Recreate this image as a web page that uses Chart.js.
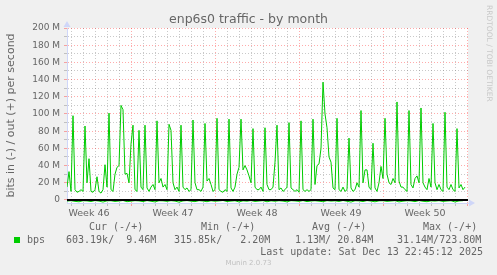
<!DOCTYPE html>
<html>
<head>
<meta charset="utf-8">
<script src="https://cdn.jsdelivr.net/npm/chart.js@4.4.1/dist/chart.umd.min.js"></script>
<style>
  body { margin: 0; background: #f0f0f0; }
  #wrap { position: relative; width: 497px; height: 275px; overflow: hidden; }
  #chart { position: absolute; left: 0; top: 0; }
  .txt { position: absolute; white-space: pre; color: #666; line-height: normal; }
  .mono { font-family: "DejaVu Sans Mono", monospace; font-size: 10px; }
</style>
</head>
<body>
<div id="wrap">
  <canvas id="chart" width="497" height="275"></canvas>
</div>
<script>
// Data (out = positive, in = negative), bits/s in M
const startDay = 1 + 16 / 24;   // Tue Nov 11 16:00, counted in days from Mon Nov 10
const endDay = startDay + 401 / 12;
const outStepHours = 4;
const inStepHours = 8;

const outValues = [
  15, 33, 10, 98, 12, 9,   10, 12, 10, 86, 20, 48,   10, 9, 12, 27, 10, 8,
  12, 41, 15, 101, 12, 10, 30, 38, 40, 110, 105, 30,  31, 20, 65, 87, 12, 10,
  81, 15, 12, 87, 14, 10,  15, 18, 12, 92, 20, 25,   15, 18, 12, 88, 81, 20,
  12, 15, 10, 87, 15, 12,  14, 10, 12, 93, 20, 12,   12, 10, 15, 89, 22, 25,
  18, 10, 12, 95, 12, 10,  9, 12, 10, 94, 14, 10,    15, 30, 38, 94, 35, 40,
  35, 28, 20, 83, 15, 12,  12, 15, 10, 84, 18, 12,   12, 15, 44, 87, 12, 14,
  10, 12, 15, 90, 14, 12,  10, 12, 9, 92, 12, 10,    12, 10, 12, 94, 18, 40,
  42, 60, 137, 100, 84, 50, 44, 14, 12, 95, 12, 10,  15, 10, 12, 72, 14, 10,
  12, 20, 15, 104, 20, 35, 35, 15, 12, 66, 14, 10,   20, 39, 25, 95, 30, 20,
  18, 25, 20, 114, 22, 15, 15, 12, 10, 104, 18, 14,  25, 28, 20, 107, 20, 15,
  12, 25, 15, 89, 20, 12,  18, 12, 10, 102, 15, 12,  18, 12, 10, 83, 14, 18,
  12, 15
];

const inValues = [
  -1.2, -0.8, -1.6, -2.1, -0.9, -1.1, -1.8, -0.7, -1.3, -2.4,
  -1.0, -0.9, -1.7, -1.2, -0.6, -2.0, -1.4, -0.8, -1.1, -1.9,
  -0.7, -1.5, -2.2, -0.9, -1.0, -1.6, -0.8, -1.3, -2.5, -1.1,
  -0.7, -1.4, -1.9, -0.8, -1.2, -2.0, -0.9, -1.5, -1.1, -0.6,
  -1.8, -1.3, -0.9, -2.3, -1.0, -1.4, -0.7, -1.7, -1.2, -0.8,
  -2.1, -1.0, -1.5, -0.9, -1.3, -2.2, -0.8, -1.1, -1.6, -0.7,
  -1.9, -1.2, -0.9, -1.4, -2.0, -0.8, -1.3, -1.0, -1.7, -0.6,
  -1.5, -2.4, -0.9, -1.1, -1.8, -0.7, -1.3, -2.1, -1.0, -0.9,
  -1.6, -1.2, -0.8, -2.2, -1.4, -0.9, -1.1, -1.9, -0.7, -1.5,
  -2.0, -1.0, -1.3, -0.8, -1.7, -1.2, -0.9, -2.3, -1.1, -0.8
];

const weekLabels = ['Week 46', 'Week 47', 'Week 48', 'Week 49', 'Week 50'];
const weekCenters = [3.5, 10.5, 17.5, 24.5, 31.5];

const legendHeaders = ['Cur (-/+)', 'Min (-/+)', 'Avg (-/+)', 'Max (-/+)'];
const legendValues = ['603.19k/  9.46M', '315.85k/   2.20M', '1.13M/ 20.84M', '31.14M/723.80M'];
const seriesName = 'bps';
const lastUpdate = 'Last update: Sat Dec 13 22:45:12 2025';

// Colours munin hands to rrdtool
const GREEN = '#00cc00';
const AXIS = '#cfd6f8';
const MGRID = 'rgba(255, 0, 0, 0.33)';
const GRID = 'rgba(120, 120, 120, 0.4)';

const outPoints = outValues.map((v, i) => ({ x: startDay + i * outStepHours / 24, y: v }));
const inPoints = inValues.map((v, i) => ({ x: startDay + i * inStepHours / 24, y: v }));

// plot background, zero line and axis arrows
const rrdPlugin = {
    id: 'rrd',
    beforeDraw(chart) {
        const a = chart.chartArea;
        const ctx = chart.ctx;
        ctx.save();
        ctx.fillStyle = '#ffffff';
        ctx.fillRect(a.left, a.top, a.right - a.left, a.bottom - a.top);
        ctx.restore();
    },
    afterDatasetsDraw(chart) {
        const a = chart.chartArea;
        const ctx = chart.ctx;
        const y0 = Math.round(chart.scales.y.getPixelForValue(0));
        ctx.save();
        ctx.fillStyle = '#000000';
        ctx.fillRect(a.left, y0 - 1, a.right - a.left, 2);
        ctx.fillStyle = AXIS;
        ctx.beginPath();
        ctx.moveTo(a.left - 3.5, a.top - 1);
        ctx.lineTo(a.left + 3.5, a.top - 1);
        ctx.lineTo(a.left, a.top - 7);
        ctx.closePath();
        ctx.fill();
        ctx.beginPath();
        ctx.moveTo(a.right + 1, a.bottom - 3.5);
        ctx.lineTo(a.right + 1, a.bottom + 3.5);
        ctx.lineTo(a.right + 7, a.bottom);
        ctx.closePath();
        ctx.fill();
        ctx.restore();
    }
};

new Chart(document.getElementById('chart'), {
    type: 'line',
    data: {
        datasets: [
            { label: 'out', data: outPoints, borderColor: GREEN, borderWidth: 1, pointRadius: 0, tension: 0 },
            { label: 'in', data: inPoints, borderColor: GREEN, borderWidth: 1, pointRadius: 0, tension: 0 }
        ]
    },
    options: {
        responsive: false,
        animation: false,
        devicePixelRatio: 1,
        layout: { padding: { top: 28, right: 29, bottom: 52, left: 0 } },
        plugins: { legend: { display: false }, tooltip: { enabled: false } },
        scales: {
            x: {
                type: 'linear',
                min: startDay,
                max: endDay,
                afterBuildTicks(scale) {
                    const ticks = [];
                    for (let d = 2; d <= 35; d++) ticks.push({ value: d });
                    weekCenters.forEach(c => ticks.push({ value: c }));
                    ticks.sort((p, q) => p.value - q.value);
                    scale.ticks = ticks;
                },
                afterFit(scale) { scale.height = 20; },
                ticks: {
                    autoSkip: false,
                    maxRotation: 0,
                    padding: 2,
                    color: '#666',
                    font: { family: 'DejaVu Sans', size: 9.5 },
                    callback(v) {
                        const k = weekCenters.indexOf(v);
                        return k >= 0 ? weekLabels[k] : '';
                    }
                },
                grid: {
                    tickLength: 3,
                    color(c) {
                        const v = c.tick.value;
                        if (!Number.isInteger(v)) return 'transparent';
                        return v % 7 === 0 ? MGRID : GRID;
                    },
                    tickColor(c) {
                        const v = c.tick.value;
                        if (!Number.isInteger(v)) return 'transparent';
                        return v % 7 === 0 ? MGRID : GRID;
                    }
                },
                border: { display: true, color: AXIS, width: 1, dash: [1, 2] }
            },
            y: {
                min: -3.5,
                max: 200,
                afterBuildTicks(scale) {
                    const ticks = [];
                    for (let v = 0; v <= 200; v += 10) ticks.push({ value: v });
                    scale.ticks = ticks;
                },
                afterFit(scale) { scale.width = 67; },
                ticks: {
                    autoSkip: false,
                    padding: 4,
                    color: '#666',
                    font: { family: 'DejaVu Sans', size: 9 },
                    callback(v) {
                        if (v % 20 !== 0) return '';
                        return v === 0 ? '0' : v + ' M';
                    }
                },
                grid: {
                    tickLength: 3,
                    color(c) { return c.tick.value % 20 === 0 ? MGRID : GRID; },
                    tickColor(c) { return c.tick.value % 20 === 0 ? MGRID : GRID; }
                },
                border: { display: true, color: AXIS, width: 1, dash: [1, 2] },
                title: {
                    display: true,
                    text: 'bits in (-) / out (+) per second',
                    color: '#666',
                    font: { family: 'DejaVu Sans', size: 11 },
                    padding: { top: 5, bottom: 0 }
                }
            }
        }
    },
    plugins: [rrdPlugin]
});

// texts rrdtool writes around the graph
const wrap = document.getElementById('wrap');
function addText(text, css, cls) {
    const d = document.createElement('div');
    d.className = 'txt ' + (cls || '');
    d.textContent = text;
    Object.assign(d.style, css);
    wrap.appendChild(d);
    return d;
}

addText('enp6s0 traffic - by month',
    { left: '0', width: '497px', textAlign: 'center', top: '11.4px', fontFamily: 'DejaVu Sans', fontSize: '12.5px' });
addText('RRDTOOL / TOBI OETIKER',
    { left: '485px', top: '5px', writingMode: 'vertical-rl', fontFamily: 'DejaVu Sans', fontSize: '7.5px', color: '#c8c8c8' });

const headerX = [89, 201, 312, 423];
legendHeaders.forEach((h, i) => addText(h, { left: headerX[i] + 'px', top: '221.4px' }, 'mono'));

const valueX = [66, 174, 295, 397];
legendValues.forEach((v, i) => addText(v, { left: valueX[i] + 'px', top: '233.7px' }, 'mono'));

const box = document.createElement('div');
Object.assign(box.style, { position: 'absolute', left: '14px', top: '237px', width: '6px', height: '6px', background: GREEN });
wrap.appendChild(box);
addText(seriesName, { left: '27px', top: '233.7px' }, 'mono');

addText(lastUpdate, { right: '14px', top: '245.7px' }, 'mono');
addText('Munin 2.0.73',
    { left: '0', width: '497px', textAlign: 'center', top: '259.3px', fontFamily: 'DejaVu Sans', fontSize: '7px', color: '#c0c0c0' });
</script>
</body>
</html>
